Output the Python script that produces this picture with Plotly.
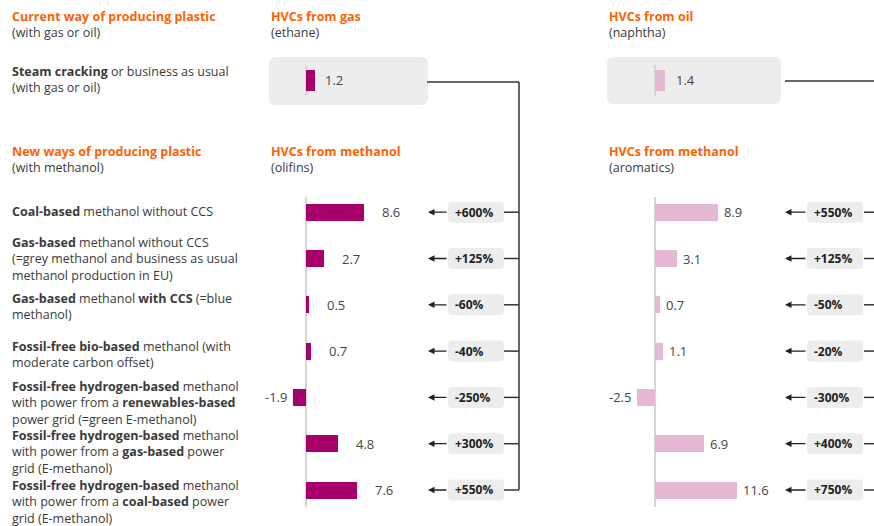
import plotly.graph_objects as go

# ---------------- data ----------------
route_labels = [
    "<b>Coal-based</b> methanol without CCS",
    "<b>Gas-based</b> methanol without CCS<br>(=grey methanol and business as usual<br>methanol production in EU)",
    "<b>Gas-based</b> methanol <b>with CCS</b> (=blue<br>methanol)",
    "<b>Fossil-free bio-based</b> methanol (with<br>moderate carbon offset)",
    "<b>Fossil-free hydrogen-based</b> methanol<br>with power from a <b>renewables-based</b><br>power grid (=green E-methanol)",
    "<b>Fossil-free hydrogen-based</b> methanol<br>with power from a <b>gas-based</b> power<br>grid (E-methanol)",
    "<b>Fossil-free hydrogen-based</b> methanol<br>with power from a <b>coal-based</b> power<br>grid (E-methanol)",
]
olefins = [8.6, 2.7, 0.5, 0.7, -1.9, 4.8, 7.6]
aromatics = [8.9, 3.1, 0.7, 1.1, -2.5, 6.9, 11.6]
olefin_change = ["+600%", "+125%", "-60%", "-40%", "-250%", "+300%", "+550%"]
aromatic_change = ["+550%", "+125%", "-50%", "-20%", "-300%", "+400%", "+750%"]
ethane_steam = 1.2
naphtha_steam = 1.4

# ---------------- styling ----------------
W, H = 874, 526
ORANGE = "#FF6200"
TEXT = "#3A3A3A"
MAGENTA = "#A8006A"
PINK = "#E5B9D3"
BOX = "#EDEDED"
ZERO = "#D6D6D6"
LINE = "#333333"
LABEL_FONT = "Open Sans"
LABEL_SIZE = 12.5
LINE_PITCH = 1.3 * LABEL_SIZE   # plotly's own line spacing for multi-line text
NUM_FONT = "Open Sans"


def fx(x):
    return x / W


def fy(y):
    return 1 - y / H


# row geometry of the methanol panels (pixel rows)
ROW0, PITCH = 212.2, 46.3
PANEL_TOP, PANEL_BOT = 197, 507


def row_px(i):
    return ROW0 + PITCH * i


rows = list(range(len(route_labels)))


def xaxis(x0, x1, zero_px, scale, anchor):
    return dict(domain=[fx(x0), fx(x1)],
                range=[(x0 - zero_px) / scale, (x1 - zero_px) / scale],
                showgrid=False, showticklabels=False, ticks="", showline=False,
                zeroline=True, zerolinecolor=ZERO, zerolinewidth=1.5,
                fixedrange=True, anchor=anchor)


def yaxis(y_top, y_bot, rng, anchor):
    return dict(domain=[fy(y_bot), fy(y_top)], range=rng,
                showgrid=False, showticklabels=False, ticks="", showline=False,
                zeroline=False, fixedrange=True, anchor=anchor)


methanol_range = [(PANEL_BOT - ROW0) / PITCH, -(ROW0 - PANEL_TOP) / PITCH]

fig = go.Figure()

# methanol -> olefins
fig.add_trace(go.Bar(x=olefins, y=rows, orientation="h", width=17 / PITCH,
                     marker=dict(color=MAGENTA, line=dict(width=0)),
                     xaxis="x", yaxis="y", hoverinfo="skip"))
# steam cracking of ethane
fig.add_trace(go.Bar(x=[ethane_steam], y=[0], orientation="h", width=0.7,
                     marker=dict(color=MAGENTA, line=dict(width=0)),
                     xaxis="x2", yaxis="y2", hoverinfo="skip"))
# methanol -> aromatics
fig.add_trace(go.Bar(x=aromatics, y=rows, orientation="h", width=17 / PITCH,
                     marker=dict(color=PINK, line=dict(width=0)),
                     xaxis="x3", yaxis="y3", hoverinfo="skip"))
# steam cracking of naphtha
fig.add_trace(go.Bar(x=[naphtha_steam], y=[0], orientation="h", width=0.7,
                     marker=dict(color=PINK, line=dict(width=0)),
                     xaxis="x4", yaxis="y4", hoverinfo="skip"))

shapes = []
annotations = []


def rrect(x0, y0, x1, y1, r, color):
    pts = [("M", x0 + r, y0), ("L", x1 - r, y0), ("Q", x1, y0, x1, y0 + r),
           ("L", x1, y1 - r), ("Q", x1, y1, x1 - r, y1), ("L", x0 + r, y1),
           ("Q", x0, y1, x0, y1 - r), ("L", x0, y0 + r), ("Q", x0, y0, x0 + r, y0)]
    path = ""
    for p in pts:
        cmd, coords = p[0], p[1:]
        pairs = [f"{fx(coords[k]):.5f},{fy(coords[k + 1]):.5f}" for k in range(0, len(coords), 2)]
        path += cmd + " " + " ".join(pairs) + " "
    path += "Z"
    return dict(type="path", path=path, xref="paper", yref="paper",
                fillcolor=color, line=dict(width=0), layer="below")


def seg(x0, y0, x1, y1):
    return dict(type="line", xref="paper", yref="paper",
                x0=fx(x0), y0=fy(y0), x1=fx(x1), y1=fy(y1),
                line=dict(color=LINE, width=1.5))


# grey boxes around the business-as-usual bars
shapes.append(rrect(269, 57, 428, 105, 7, BOX))
shapes.append(rrect(607, 57, 781, 104, 7, BOX))

# connector from the gas box down to every olefin row
TOP_Y = 82
shapes.append(seg(427, TOP_Y, 519, TOP_Y))
shapes.append(seg(519, TOP_Y, 519, row_px(rows[-1])))
# connector from the oil box (continues off to the right)
shapes.append(seg(785, TOP_Y - 1, W + 2, TOP_Y - 1))

for i in rows:
    y = row_px(i)
    # badges
    shapes.append(rrect(448, y - 10.5, 504, y + 10.5, 4, BOX))
    shapes.append(rrect(807, y - 10.5, 863, y + 10.5, 4, BOX))
    # branch lines from the vertical connectors
    shapes.append(seg(504, y, 519, y))
    shapes.append(seg(864, y, W + 2, y))
    # badge texts
    annotations.append(dict(xref="paper", yref="paper", x=fx(453), y=fy(y),
                            xanchor="left", yanchor="middle", showarrow=False,
                            text=f"<b>{olefin_change[i]}</b>",
                            font=dict(family=NUM_FONT, size=12, color="#222")))
    annotations.append(dict(xref="paper", yref="paper", x=fx(812), y=fy(y),
                            xanchor="left", yanchor="middle", showarrow=False,
                            text=f"<b>{aromatic_change[i]}</b>",
                            font=dict(family=NUM_FONT, size=12, color="#222")))
    # arrows pointing at the bars
    for tip, tail in ((428, 448), (785, 807)):
        annotations.append(dict(xref="paper", yref="paper", x=fx(tip), y=fy(y),
                                axref="pixel", ayref="pixel", ax=tail - tip, ay=0,
                                text="", showarrow=True, arrowhead=2, arrowsize=1.0,
                                arrowwidth=1.3, arrowcolor="#222", standoff=0,
                                startstandoff=0))


def value_label(v, xref, yref, y, gap, size=13):
    return dict(xref=xref, yref=yref, x=v, y=y,
                xanchor="left" if v >= 0 else "right", yanchor="middle",
                xshift=gap if v >= 0 else -gap, showarrow=False,
                text=f"{v}", font=dict(family=NUM_FONT, size=size, color="#444"))


for i in rows:
    annotations.append(value_label(olefins[i], "x", "y", i, 16 if olefins[i] >= 0 else 4))
    annotations.append(value_label(aromatics[i], "x3", "y3", i, 4))
annotations.append(value_label(ethane_steam, "x2", "y2", 0, 8))
annotations.append(value_label(naphtha_steam, "x4", "y4", 0, 9))


def text_block(x, y_first, text, color=TEXT):
    n = text.count("<br>") + 1
    annotations.append(dict(xref="paper", yref="paper", x=fx(x),
                            y=fy(y_first + (n - 1) * LINE_PITCH / 2),
                            xanchor="left", yanchor="middle", align="left",
                            showarrow=False, text=text,
                            font=dict(family=LABEL_FONT, size=LABEL_SIZE, color=color)))


def heading(x, y_first, title, sub):
    text_block(x, y_first, f"<b><span style='color:{ORANGE}'>{title}</span></b><br>{sub}")


heading(10, 16.5, "Current way of producing plastic", "(with gas or oil)")
heading(269, 16.5, "HVCs from gas", "(ethane)")
heading(607, 16.5, "HVCs from oil", "(naphtha)")
heading(10, 151.5, "New ways of producing plastic", "(with methanol)")
heading(269, 151.5, "HVCs from methanol", "(olifins)")
heading(607, 151.5, "HVCs from methanol", "(aromatics)")
text_block(10, 71, "<b>Steam cracking</b> or business as usual<br>(with gas or oil)")

label_first_line = [211, 242.7, 298.3, 346.5, 386.7, 435.5, 485.5]
for i in rows:
    text_block(10, label_first_line[i], route_labels[i])

fig.update_layout(
    width=W, height=H, margin=dict(l=0, r=0, t=0, b=0),
    paper_bgcolor="white", plot_bgcolor="rgba(0,0,0,0)",
    showlegend=False, bargap=0,
    xaxis=xaxis(270, 430, 306, 6.75, "y"),
    yaxis=yaxis(PANEL_TOP, PANEL_BOT, methanol_range, "x"),
    xaxis2=xaxis(275, 425, 306, 7.15, "y2"),
    yaxis2=yaxis(65, 95, [0.5, -0.5], "x2"),
    xaxis3=xaxis(610, 780, 655, 7.05, "y3"),
    yaxis3=yaxis(PANEL_TOP, PANEL_BOT, methanol_range, "x3"),
    xaxis4=xaxis(612, 778, 655, 7.1, "y4"),
    yaxis4=yaxis(65, 95.5, [0.5, -0.5], "x4"),
    shapes=shapes, annotations=annotations,
)

fig.write_html("out.html")
